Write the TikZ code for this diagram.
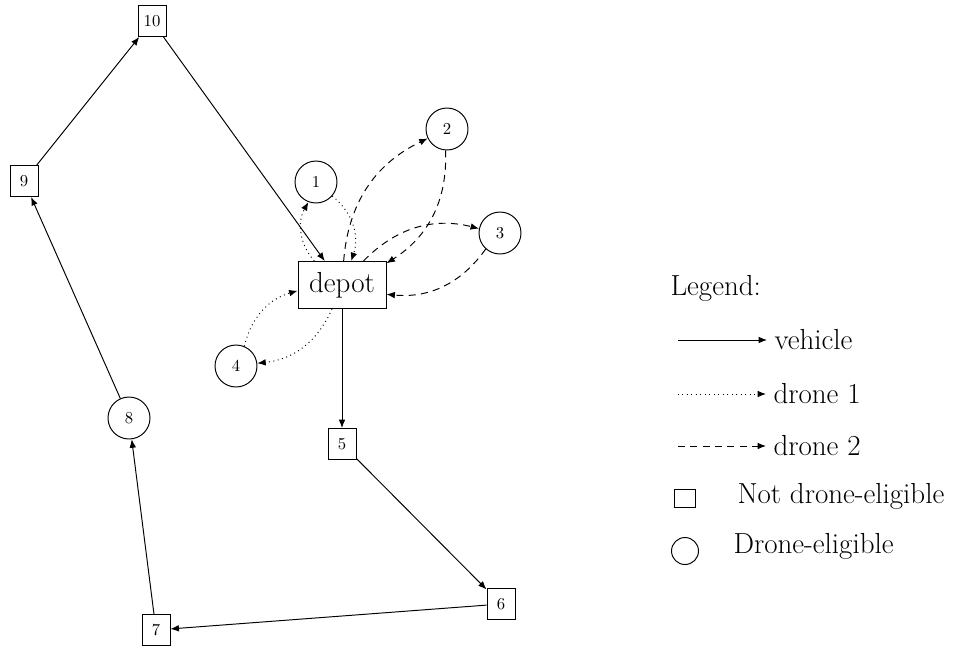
\documentclass[tikz,border=0pt]{standalone}
\usetikzlibrary{arrows.meta}
\tikzset{
  plainstop/.style={draw,rectangle,minimum width=0.56cm,minimum height=0.62cm,inner sep=0pt,font=\fontsize{9.5}{11}\selectfont},
  dronestop/.style={draw,circle,minimum size=0.84cm,inner sep=0pt,font=\fontsize{9.5}{11}\selectfont},
  depotbox/.style={draw,rectangle,minimum width=1.76cm,minimum height=0.94cm,inner sep=0pt,font=\fontsize{16.5}{19}\selectfont},
  legendtext/.style={anchor=west,inner sep=4pt,font=\fontsize{16.5}{19}\selectfont},
  vehicle/.style={-{Latex[length=4.8pt,width=3.8pt]}},
  drone1/.style={vehicle,dotted},
  drone2/.style={vehicle,dash pattern=on 4pt off 3pt},
}
\begin{document}
\begin{tikzpicture}[x=0.02cm,y=-0.02cm,line width=0.55pt]
            \useasboundingbox (0,0) rectangle (955,647);
            \node[plainstop] (n10) at (152,21) {10};
            \node[plainstop] (n9) at (24,181) {9};
            \node[dronestop] (n8) at (129,418) {8};
            \node[plainstop] (n7) at (156,630) {7};
            \node[plainstop] (n6) at (501,604) {6};
            \node[plainstop] (n5) at (342,444) {5};
            \node[depotbox] (depot) at (342,285) {depot};
            \node[dronestop] (n1) at (316,182) {1};
            \node[dronestop] (n2) at (447,129) {2};
            \node[dronestop] (n3) at (500,233) {3};
            \node[dronestop] (n4) at (236,366) {4};
            \draw[vehicle] (depot)--(n5);
            \draw[vehicle] (n5)--(n6);
            \draw[vehicle] (n6)--(n7);
            \draw[vehicle] (n7)--(n8);
            \draw[vehicle] (n8)--(n9);
            \draw[vehicle] (n9)--(n10);
            \draw[vehicle] (n10)--(depot);
            \draw[drone1] (depot) to[bend left=35] (n1);
            \draw[drone1] (n1) to[bend left=35] (depot);
            \draw[drone1] (depot) to[bend left=30] (n4);
            \draw[drone1] (n4) to[bend left=30] (depot);
            \draw[drone2] (depot) to[bend left=30] (n2);
            \draw[drone2] (n2) to[bend left=30] (depot);
            \draw[drone2] (depot) to[bend left=30] (n3);
            \draw[drone2] (n3) to[bend left=30] (depot);
            \node[legendtext] (legend) at (663,288) {Legend:};
            \coordinate (lveh) at (678,340);
            \node[legendtext] (tveh) at (767,340) {vehicle};
            \draw[vehicle] (lveh)--(tveh);
            \coordinate (ldr1) at (678,394);
            \node[legendtext] (tdr1) at (766,394) {drone 1};
            \draw[drone1] (ldr1)--(tdr1);
            \coordinate (ldr2) at (678,446);
            \node[legendtext] (tdr2) at (766,446) {drone 2};
            \draw[drone2] (ldr2)--(tdr2);
            \node[draw,rectangle,minimum width=0.42cm,minimum height=0.36cm,inner sep=0pt] (lsq) at (685,498) {};
            \node[legendtext] (tsq) at (730,496) {Not drone-eligible};
            \node[draw,circle,minimum size=0.54cm,inner sep=0pt] (lcirc) at (685,551) {};
            \node[legendtext] (tcirc) at (726,546) {Drone-eligible};
\end{tikzpicture}
\end{document}
